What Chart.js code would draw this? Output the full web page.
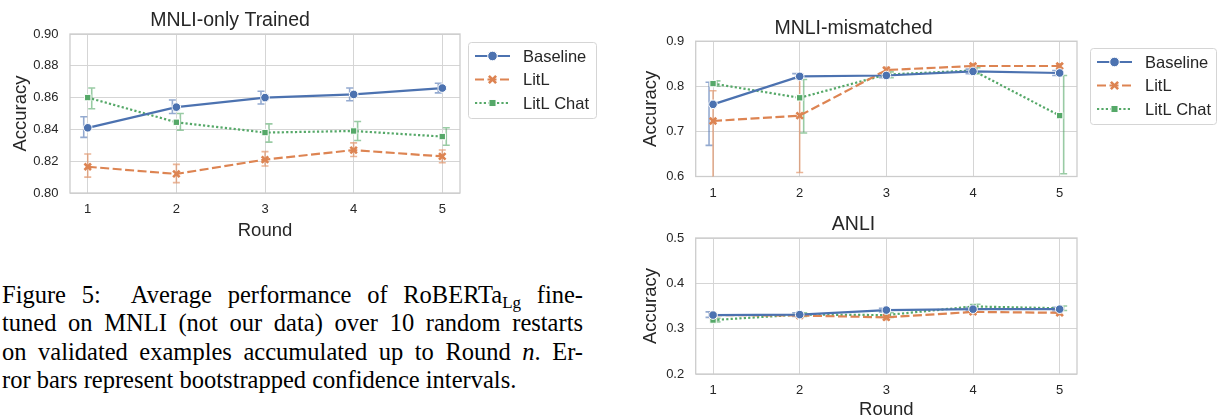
<!DOCTYPE html>
<html>
<head>
<meta charset="utf-8">
<script src="https://cdn.jsdelivr.net/npm/chart.js@4.4.1/dist/chart.umd.min.js"></script>
<style>
  html, body { margin: 0; padding: 0; background: #fff; overflow: hidden; }
  body { width: 1219px; height: 419px; position: relative; }
  canvas { position: absolute; }
  #c1 { left: 0; top: 0; }
  #c2 { left: 630px; top: 0; }
  #c3 { left: 630px; top: 200px; }
  .caption { position: absolute; left: 2px; top: 281px; width: 581px; font-family: "Liberation Serif", "Times New Roman", Times, serif; font-size: 24.5px; line-height: 28.3px; color: #000; }
  .caption div { text-align: justify; text-align-last: justify; }
  .caption div.last { text-align-last: left; }
  .sub { font-size: 17px; position: relative; top: 5px; line-height: 0; }
</style>
</head>
<body>
<canvas id="c1" width="615" height="245"></canvas>
<canvas id="c2" width="589" height="200"></canvas>
<canvas id="c3" width="589" height="219"></canvas>
<div class="caption">
  <div>Figure 5:&nbsp; Average performance of RoBERTa<span class="sub">Lg</span> fine-</div>
  <div>tuned on MNLI (not our data) over 10 random restarts</div>
  <div>on validated examples accumulated up to Round <i>n</i>. Er-</div>
  <div class="last">ror bars represent bootstrapped confidence intervals.</div>
</div>
<script>
var rounds = [1, 2, 3, 4, 5];
var names = ['Baseline', 'LitL', 'LitL Chat'];

// MNLI-only Trained
var trainedBaseline   = [0.841, 0.854, 0.860, 0.862, 0.866];
var trainedBaselineLo = [0.835, 0.850, 0.856, 0.858, 0.863];
var trainedBaselineHi = [0.848, 0.8585, 0.864, 0.866, 0.869];
var trainedLitl   = [0.8165, 0.812, 0.821, 0.827, 0.823];
var trainedLitlLo = [0.810, 0.8065, 0.817, 0.823, 0.819];
var trainedLitlHi = [0.8245, 0.818, 0.826, 0.8315, 0.827];
var trainedChat   = [0.860, 0.8445, 0.838, 0.839, 0.8355];
var trainedChatLo = [0.853, 0.8395, 0.832, 0.833, 0.830];
var trainedChatHi = [0.866, 0.850, 0.8435, 0.845, 0.841];
var trainedTicks  = [0.80, 0.82, 0.84, 0.86, 0.88, 0.90];

// MNLI-mismatched
var mmBaseline   = [0.760, 0.822, 0.824, 0.833, 0.8295];
var mmBaselineLo = [0.669, 0.8175, 0.819, 0.828, 0.824];
var mmBaselineHi = [0.809, 0.828, 0.829, 0.838, 0.835];
var mmLitl   = [0.723, 0.735, 0.836, 0.845, 0.845];
var mmLitlLo = [0.55, 0.609, 0.830, 0.839, 0.839];
var mmLitlHi = [0.79, 0.823, 0.842, 0.850, 0.850];
var mmChat   = [0.806, 0.7745, 0.826, 0.835, 0.735];
var mmChatLo = [0.800, 0.6965, 0.819, 0.828, 0.606];
var mmChatHi = [0.812, 0.815, 0.832, 0.841, 0.824];
var mmTicks  = [0.6, 0.7, 0.8, 0.9];

// ANLI
var anliBaseline   = [0.330, 0.331, 0.341, 0.343, 0.343];
var anliBaselineLo = [0.325, 0.327, 0.337, 0.339, 0.339];
var anliBaselineHi = [0.337, 0.335, 0.345, 0.347, 0.347];
var anliLitl   = [0.330, 0.329, 0.325, 0.337, 0.335];
var anliLitlLo = [0.326, 0.325, 0.320, 0.333, 0.331];
var anliLitlHi = [0.334, 0.333, 0.330, 0.341, 0.339];
var anliChat   = [0.319, 0.331, 0.330, 0.349, 0.345];
var anliChatLo = [0.315, 0.327, 0.325, 0.344, 0.340];
var anliChatHi = [0.323, 0.335, 0.335, 0.354, 0.350];
var anliTicks  = [0.2, 0.3, 0.4, 0.5];

Chart.defaults.font.family = '"Liberation Sans", Arial, sans-serif';
Chart.defaults.color = '#262626';

var looks = [
  { color: '#4c72b0', err: 'rgba(76,114,176,0.6)', dash: [], marker: 'circle', r: 4.3, shift: -4 },
  { color: '#dd8452', err: 'rgba(221,132,82,0.6)', dash: [9, 3.5], marker: 'crossRot', r: 4.6, shift: 0 },
  { color: '#55a868', err: 'rgba(85,168,104,0.6)', dash: [2.2, 2.2], marker: 'rect', r: 4.5, shift: 4 }
];

function drawMarker(ctx, style, x, y, r, color) {
  ctx.save();
  ctx.setLineDash([]);
  if (style === 'circle') {
    ctx.beginPath(); ctx.arc(x, y, r, 0, Math.PI * 2);
    ctx.fillStyle = color; ctx.fill();
    ctx.strokeStyle = '#fff'; ctx.lineWidth = 1; ctx.stroke();
  } else if (style === 'rect') {
    var s = r * Math.SQRT1_2;
    ctx.fillStyle = color; ctx.fillRect(x - s, y - s, 2 * s, 2 * s);
    ctx.strokeStyle = '#fff'; ctx.lineWidth = 1; ctx.strokeRect(x - s, y - s, 2 * s, 2 * s);
  } else {
    var d = r * Math.SQRT1_2;
    ctx.strokeStyle = color; ctx.lineWidth = 2.6;
    ctx.beginPath();
    ctx.moveTo(x - d, y - d); ctx.lineTo(x + d, y + d);
    ctx.moveTo(x - d, y + d); ctx.lineTo(x + d, y - d);
    ctx.stroke();
  }
  ctx.restore();
}

// plot frame + bootstrapped error bars, under the lines
var frameAndErrors = {
  id: 'frameAndErrors',
  beforeDatasetsDraw: function(chart) {
    var ctx = chart.ctx, a = chart.chartArea;
    var xs = chart.scales.x, ys = chart.scales.y;
    ctx.save();
    ctx.strokeStyle = '#cccccc';
    ctx.lineWidth = 1.3;
    ctx.strokeRect(a.left, a.top, a.right - a.left, a.bottom - a.top);
    ctx.beginPath();
    ctx.rect(a.left, a.top, a.right - a.left, a.bottom - a.top);
    ctx.clip();
    chart.data.datasets.forEach(function(ds) {
      ctx.strokeStyle = ds.errColor;
      ctx.lineWidth = 1.6;
      ds.errLo.forEach(function(lo, i) {
        var x = xs.getPixelForValue(rounds[i]) + ds.errShift;
        var y1 = ys.getPixelForValue(lo), y2 = ys.getPixelForValue(ds.errHi[i]);
        ctx.beginPath();
        ctx.moveTo(x, y1); ctx.lineTo(x, y2);
        ctx.moveTo(x - 3.5, y1); ctx.lineTo(x + 3.5, y1);
        ctx.moveTo(x - 3.5, y2); ctx.lineTo(x + 3.5, y2);
        ctx.stroke();
      });
    });
    ctx.restore();
  }
};

var boxLegend = {
  id: 'boxLegend',
  afterDraw: function(chart, args, opts) {
    if (!opts.show) return;
    var ctx = chart.ctx;
    var left = chart.chartArea.right + opts.dx, top = opts.top;
    ctx.save();
    ctx.beginPath();
    ctx.roundRect(left + 0.5, top + 0.5, opts.w, 76, 3);
    ctx.fillStyle = '#fff'; ctx.fill();
    ctx.strokeStyle = '#d5d5d5'; ctx.lineWidth = 1; ctx.stroke();
    chart.data.datasets.forEach(function(ds, i) {
      var y = top + 14 + i * 23.5;
      ctx.strokeStyle = ds.borderColor;
      ctx.lineWidth = ds.borderWidth;
      ctx.setLineDash(ds.borderDash);
      ctx.beginPath(); ctx.moveTo(left + 7, y); ctx.lineTo(left + 42, y); ctx.stroke();
      drawMarker(ctx, ds.pointStyle, left + 24.5, y, ds.pointRadius + 0.5, ds.borderColor);
      ctx.fillStyle = '#262626';
      ctx.font = '16.5px "Liberation Sans", Arial, sans-serif';
      ctx.textBaseline = 'middle';
      ctx.fillText(ds.label, left + 55, y + 1);
    });
    ctx.restore();
  }
};

function dataset(i, vals, lo, hi) {
  var l = looks[i];
  return {
    label: names[i],
    data: rounds.map(function(r, k) { return { x: r, y: vals[k] }; }),
    borderColor: l.color,
    backgroundColor: l.color,
    borderWidth: 2.2,
    borderDash: l.dash,
    tension: 0,
    pointStyle: l.marker,
    pointRadius: l.r,
    pointBackgroundColor: l.color,
    pointBorderColor: l.marker === 'crossRot' ? l.color : '#fff',
    pointBorderWidth: l.marker === 'crossRot' ? 2.6 : 1,
    errLo: lo, errHi: hi, errColor: l.err, errShift: l.shift
  };
}

function makeChart(id, o) {
  return new Chart(document.getElementById(id), {
    type: 'line',
    data: { datasets: o.series.map(function(s, i) { return dataset(i, s[0], s[1], s[2]); }) },
    options: {
      responsive: false,
      animation: false,
      layout: { padding: { left: 0, right: o.padRight, top: 0, bottom: 0 } },
      plugins: {
        legend: { display: false },
        tooltip: { enabled: false },
        title: { display: true, text: o.title, color: '#262626', font: { size: 19.5, weight: 'normal' }, padding: o.titlePad },
        boxLegend: o.legend
      },
      scales: {
        x: {
          type: 'linear', min: 0.8, max: 5.2,
          afterBuildTicks: function(s) { s.ticks = rounds.map(function(v) { return { value: v }; }); },
          afterFit: function(s) { s.height = o.xHeight; },
          ticks: { font: { size: 13 }, padding: 9, color: '#262626' },
          grid: { color: '#d5d5d5', lineWidth: 1, drawTicks: false },
          border: { display: false },
          title: { display: o.xTitle, text: 'Round', font: { size: 18.5 }, padding: { top: 0, bottom: o.xTitlePad }, color: '#262626' }
        },
        y: {
          min: o.ticks[0], max: o.ticks[o.ticks.length - 1],
          afterBuildTicks: function(s) { s.ticks = o.ticks.map(function(v) { return { value: v }; }); },
          afterFit: function(s) { s.width = o.yWidth; },
          ticks: { font: { size: 13 }, padding: 11.5, color: '#262626', callback: function(v) { return v.toFixed(o.digits); } },
          grid: { color: '#d5d5d5', lineWidth: 1, drawTicks: false },
          border: { display: false },
          title: { display: true, text: 'Accuracy', font: { size: 18.5 }, padding: { top: 9.5, bottom: 0 }, color: '#262626' }
        }
      }
    },
    plugins: [frameAndErrors, boxLegend]
  });
}

makeChart('c1', {
  title: 'MNLI-only Trained',
  series: [[trainedBaseline, trainedBaselineLo, trainedBaselineHi], [trainedLitl, trainedLitlLo, trainedLitlHi], [trainedChat, trainedChatLo, trainedChatHi]],
  ticks: trainedTicks, digits: 2,
  padRight: 155, yWidth: 70, xHeight: 52, xTitle: true, xTitlePad: 3,
  titlePad: { top: 8.6, bottom: 2 },
  legend: { show: true, dx: 8, top: 42, w: 128 }
});

makeChart('c2', {
  title: 'MNLI-mismatched',
  series: [[mmBaseline, mmBaselineLo, mmBaselineHi], [mmLitl, mmLitlLo, mmLitlHi], [mmChat, mmChatLo, mmChatHi]],
  ticks: mmTicks, digits: 1,
  padRight: 142, yWidth: 65.7, xHeight: 23.5, xTitle: false, xTitlePad: 0,
  titlePad: { top: 16.8, bottom: 1 },
  legend: { show: true, dx: 13, top: 48, w: 126 }
});

makeChart('c3', {
  title: 'ANLI',
  series: [[anliBaseline, anliBaselineLo, anliBaselineHi], [anliLitl, anliLitlLo, anliLitlHi], [anliChat, anliChatLo, anliChatHi]],
  ticks: anliTicks, digits: 1,
  padRight: 142, yWidth: 65.7, xHeight: 45, xTitle: true, xTitlePad: -2,
  titlePad: { top: 12.6, bottom: 2 },
  legend: { show: false }
});
</script>
</body>
</html>
